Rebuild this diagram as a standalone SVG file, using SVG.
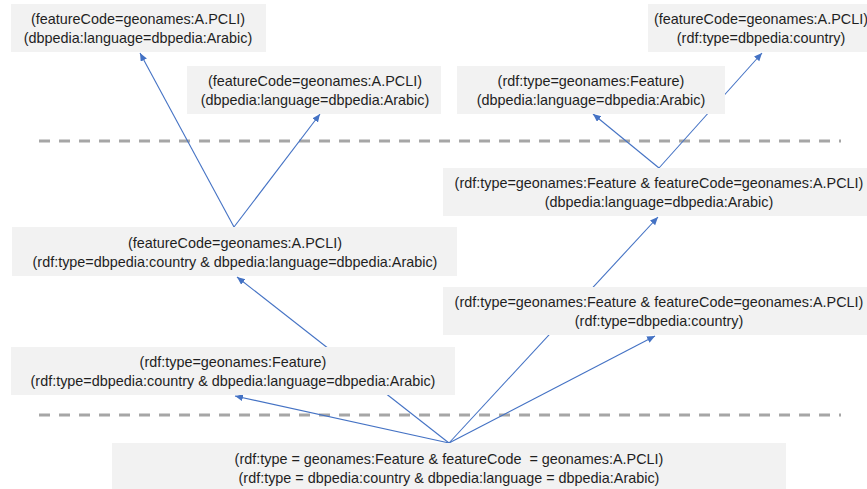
<svg xmlns="http://www.w3.org/2000/svg" width="867" height="489" viewBox="0 0 867 489">
<style>
.box{fill:#f2f2f2;stroke:none}
.t{font-family:"Liberation Sans",Arial,sans-serif;font-size:14.4px;fill:#1f1f1f;text-anchor:middle}
.dash{stroke:#a6a6a6;stroke-width:3;stroke-dasharray:11 9;fill:none}
.c{stroke:#4472c4;stroke-width:1.1;fill:none;marker-end:url(#ah)}
</style>
<defs>
<marker id="ah" markerUnits="userSpaceOnUse" markerWidth="9" markerHeight="8" refX="8" refY="3.5" orient="auto">
<path d="M0,0 L8,3.5 L0,7 z" fill="#4472c4"/>
</marker>
</defs>
<rect width="867" height="489" fill="#ffffff"/>
<g id="separators">
<line class="dash" x1="39" y1="141" x2="841" y2="141"/>
<line class="dash" x1="39" y1="415" x2="841" y2="415"/>
</g>
<g id="connectors">
<line class="c" x1="234" y1="227" x2="140" y2="53"/>
<line class="c" x1="234" y1="227" x2="320" y2="114"/>
<line class="c" x1="659" y1="168" x2="593" y2="114"/>
<line class="c" x1="659" y1="168" x2="762" y2="53"/>
<line class="c" x1="449" y1="443" x2="235" y2="396"/>
<line class="c" x1="449" y1="443" x2="237" y2="277"/>
<line class="c" x1="449" y1="443" x2="658" y2="217"/>
<line class="c" x1="449" y1="443" x2="655" y2="336"/>
</g>
<g id="nodeA">
<rect class="box" x="11" y="4" width="255" height="48"/>
<text class="t" x="138" y="24">(featureCode=geonames:A.PCLI)</text>
<text class="t" x="138" y="43">(dbpedia:language=dbpedia:Arabic)</text>
</g>
<g id="nodeB">
<rect class="box" x="187" y="66" width="254" height="48"/>
<text class="t" x="315" y="86">(featureCode=geonames:A.PCLI)</text>
<text class="t" x="315" y="105">(dbpedia:language=dbpedia:Arabic)</text>
</g>
<g id="nodeC">
<rect class="box" x="648" y="4" width="222" height="48"/>
<text class="t" x="761" y="24">(featureCode=geonames:A.PCLI)</text>
<text class="t" x="761" y="43">(rdf:type=dbpedia:country)</text>
</g>
<g id="nodeD">
<rect class="box" x="457" y="66" width="268" height="48"/>
<text class="t" x="591" y="86">(rdf:type=geonames:Feature)</text>
<text class="t" x="591" y="105">(dbpedia:language=dbpedia:Arabic)</text>
</g>
<g id="nodeE">
<rect class="box" x="443" y="168" width="427" height="48"/>
<text class="t" x="659" y="188">(rdf:type=geonames:Feature &amp; featureCode=geonames:A.PCLI)</text>
<text class="t" x="659" y="207">(dbpedia:language=dbpedia:Arabic)</text>
</g>
<g id="nodeF">
<rect class="box" x="443" y="287" width="427" height="48"/>
<text class="t" x="659" y="307">(rdf:type=geonames:Feature &amp; featureCode=geonames:A.PCLI)</text>
<text class="t" x="659" y="326">(rdf:type=dbpedia:country)</text>
</g>
<g id="nodeG">
<rect class="box" x="12" y="227" width="445" height="49"/>
<text class="t" x="235" y="248">(featureCode=geonames:A.PCLI)</text>
<text class="t" x="235" y="267">(rdf:type=dbpedia:country &amp; dbpedia:language=dbpedia:Arabic)</text>
</g>
<g id="nodeH">
<rect class="box" x="11" y="347" width="444" height="48"/>
<text class="t" x="233" y="367">(rdf:type=geonames:Feature)</text>
<text class="t" x="233" y="386">(rdf:type=dbpedia:country &amp; dbpedia:language=dbpedia:Arabic)</text>
</g>
<g id="nodeI">
<rect class="box" x="112" y="443" width="674" height="50"/>
<text class="t" x="449" y="464" xml:space="preserve">(rdf:type = geonames:Feature &amp; featureCode  = geonames:A.PCLI)</text>
<text class="t" x="449" y="483">(rdf:type = dbpedia:country &amp; dbpedia:language = dbpedia:Arabic)</text>
</g>
</svg>
